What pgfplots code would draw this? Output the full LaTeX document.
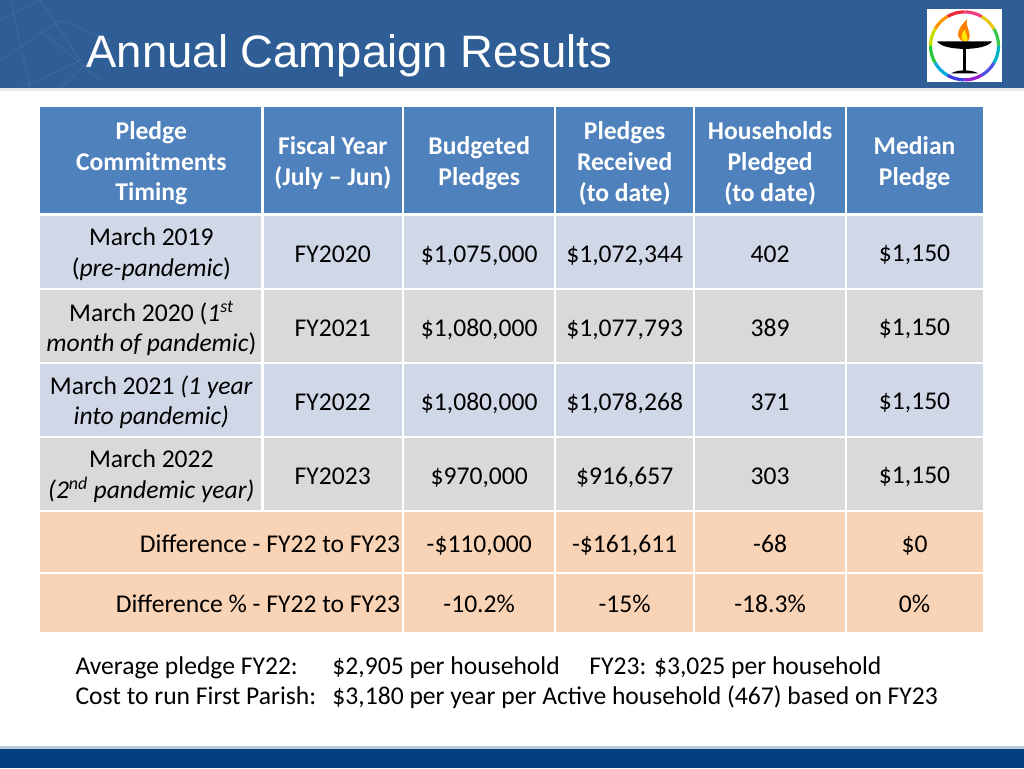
\documentclass[border=0pt]{standalone}
\usepackage{pgfplots}
\pgfplotsset{compat=1.18}
\usepackage{fontspec}
\setmainfont{Carlito}
\newfontfamily\titlefont{Liberation Sans}
\definecolor{topbar}{HTML}{2E5E95}
\definecolor{hdr}{HTML}{4F81BD}
\definecolor{rowb}{HTML}{D0D8E8}
\definecolor{rowg}{HTML}{D9D9D9}
\definecolor{peach}{HTML}{F9D3B5}
\definecolor{botbar}{HTML}{03407F}
\definecolor{botline}{HTML}{B9C9DC}
\newcommand\bfs{\fontsize{25.6}{30.7}\selectfont}
\begin{document}
\begin{tikzpicture}
\begin{axis}[scale only axis, width=1024pt, height=768pt,
  xmin=0, xmax=1024, ymin=0, ymax=768, y dir=reverse,
  hide axis, clip=false]
% background
\fill[white] (0,0) rectangle (1024,768);
\fill[topbar] (0,0) rectangle (1024,88);
\fill[black!8] (0,88) rectangle (1024,91);
% faint pattern top left
\begin{scope}[draw=white, opacity=0.08, line width=0.8pt]
\draw (0,20) -- (40,0) -- (80,60) -- (20,88);
\draw (0,60) -- (60,20) -- (110,40) -- (60,88);
\draw (10,0) -- (30,88);
\draw (40,30) -- (100,80);
\end{scope}
\fill[botline] (0,746) rectangle (1024,749);
\fill[botbar] (0,749) rectangle (1024,768);
% title
\node[anchor=base west, inner sep=0, text=white, font=\titlefont\fontsize{45.5}{50}\selectfont] at (86,67) {Annual Campaign Results};
% logo
\fill[white] (927,9) rectangle (1002,82);
\begin{scope}[line width=3.2pt]
\draw[color={rgb,255:red,240;green,40;blue,60}] (964.5,45.5) ++(90:34pt) arc[start angle=90, end angle=120, radius=34pt];
\draw[color={rgb,255:red,255;green,150;blue,0}] (964.5,45.5) ++(120:34pt) arc[start angle=120, end angle=150, radius=34pt];
\draw[color={rgb,255:red,200;green,220;blue,0}] (964.5,45.5) ++(150:34pt) arc[start angle=150, end angle=180, radius=34pt];
\draw[color={rgb,255:red,40;green,200;blue,60}] (964.5,45.5) ++(180:34pt) arc[start angle=180, end angle=210, radius=34pt];
\draw[color={rgb,255:red,0;green,170;blue,220}] (964.5,45.5) ++(210:34pt) arc[start angle=210, end angle=240, radius=34pt];
\draw[color={rgb,255:red,60;green,60;blue,230}] (964.5,45.5) ++(240:34pt) arc[start angle=240, end angle=270, radius=34pt];
\draw[color={rgb,255:red,150;green,30;blue,210}] (964.5,45.5) ++(270:34pt) arc[start angle=270, end angle=300, radius=34pt];
\draw[color={rgb,255:red,80;green,80;blue,230}] (964.5,45.5) ++(300:34pt) arc[start angle=300, end angle=330, radius=34pt];
\draw[color={rgb,255:red,0;green,180;blue,200}] (964.5,45.5) ++(330:34pt) arc[start angle=330, end angle=360, radius=34pt];
\draw[color={rgb,255:red,60;green,200;blue,80}] (964.5,45.5) ++(0:34pt) arc[start angle=0, end angle=30, radius=34pt];
\draw[color={rgb,255:red,230;green,200;blue,20}] (964.5,45.5) ++(30:34pt) arc[start angle=30, end angle=60, radius=34pt];
\draw[color={rgb,255:red,240;green,60;blue,120}] (964.5,45.5) ++(60:34pt) arc[start angle=60, end angle=90, radius=34pt];
\end{scope}
\fill[orange] (963,41) .. controls (955,37) and (957,28) .. (967,19) .. controls (965,28) and (973,32) .. (968,41) -- cycle;
\fill[yellow!90!orange] (964,41) .. controls (960,38) and (961,33) .. (965,29) .. controls (965,34) and (969,37) .. (967,41) -- cycle;
\fill[black] (937,41) -- (992,41) .. controls (986,51) and (943,51) .. (937,41) -- cycle;
\fill[black] (963,47) rectangle (966,71);
\fill[black] (951,73) .. controls (957,69) and (972,69) .. (978,73) -- cycle;
% table rows
\fill[hdr] (40,107) rectangle (983,214);
\fill[rowb] (40,214) rectangle (983,289);
\fill[rowg] (40,289) rectangle (983,363);
\fill[rowb] (40,363) rectangle (983,437);
\fill[rowg] (40,437) rectangle (983,511);
\fill[peach] (40,511) rectangle (983,573);
\fill[peach] (40,573) rectangle (983,632);
\begin{scope}[draw=white, line width=2.4pt]
\draw (40,214) -- (983,214);
\draw (40,289) -- (983,289);
\draw (40,363) -- (983,363);
\draw (40,437) -- (983,437);
\draw (40,511) -- (983,511);
\draw (40,573) -- (983,573);
\draw (262,107) -- (262,511);
\draw (403,107) -- (403,632);
\draw (555,107) -- (555,632);
\draw (694,107) -- (694,632);
\draw (846,107) -- (846,632);
\end{scope}
% header text
\begin{scope}[every node/.style={inner sep=0, align=center, text=white, font=\bfs\bfseries}]
\node at (151,163) {Pledge\\Commitments\\Timing};
\node at (332.5,163) {Fiscal Year\\(July -- Jun)};
\node at (479,163) {Budgeted\\Pledges};
\node at (624.5,163) {Pledges\\Received\\(to date)};
\node at (770,163) {Households\\Pledged\\(to date)};
\node at (914.5,163) {Median\\Pledge};
\end{scope}
% body text
\begin{scope}[every node/.style={inner sep=0, align=center, text=black, font=\bfs}]
\node at (151,254) {March 2019\\(\textit{pre-pandemic})};
\node at (151,328) {March 2020 (\textit{1\textsuperscript{st}}\\\textit{month of pandemic})};
\node at (151,402) {March 2021 \textit{(1 year}\\\textit{into pandemic)}};
\node at (151,476) {March 2022\\\textit{(2\textsuperscript{nd} pandemic year)}};
\end{scope}
\begin{scope}[every node/.style={inner sep=0, anchor=base, text=black, font=\bfs}]
\node at (332.5,262) {FY2020};
\node at (332.5,336) {FY2021};
\node at (332.5,410) {FY2022};
\node at (332.5,484) {FY2023};
\node at (479,262) {\$1,075,000};
\node at (479,336) {\$1,080,000};
\node at (479,410) {\$1,080,000};
\node at (479,484) {\$970,000};
\node at (624.5,262) {\$1,072,344};
\node at (624.5,336) {\$1,077,793};
\node at (624.5,410) {\$1,078,268};
\node at (624.5,484) {\$916,657};
\node at (770,262) {402};
\node at (770,336) {389};
\node at (770,410) {371};
\node at (770,484) {303};
\node at (914.5,261) {\$1,150};
\node at (914.5,335) {\$1,150};
\node at (914.5,409) {\$1,150};
\node at (914.5,483) {\$1,150};
\node[anchor=base east] at (400,552) {Difference - FY22 to FY23};
\node[anchor=base east] at (400,612) {Difference \% - FY22 to FY23};
\node at (479,552) {-\$110,000};
\node at (624.5,552) {-\$161,611};
\node at (770,552) {-68};
\node at (914.5,552) {\$0};
\node at (479,612) {-10.2\%};
\node at (624.5,612) {-15\%};
\node at (770,612) {-18.3\%};
\node at (914.5,612) {0\%};
\end{scope}
% footer text
\begin{scope}[every node/.style={inner sep=0, anchor=base west, text=black, font=\bfs}]
\node at (75,674) {Average pledge FY22:};
\node at (332,674) {\$2,905 per household};
\node at (589,674) {FY23: \$3,025 per household};
\node at (75,704) {Cost to run First Parish:};
\node at (332,704) {\$3,180 per year per Active household (467) based on FY23};
\end{scope}
\end{axis}
\end{tikzpicture}
\end{document}
